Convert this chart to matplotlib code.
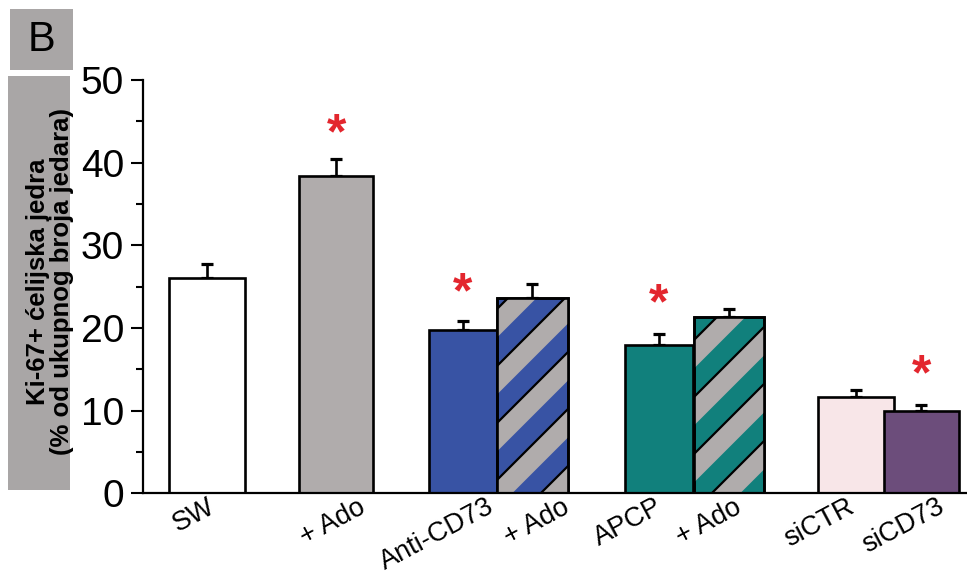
import numpy as np
import matplotlib.pyplot as plt
from matplotlib.patches import Rectangle, Polygon

plt.rcParams['font.family'] = ['Liberation Sans', 'DejaVu Sans']

labels = ["SW", "+ Ado", "Anti-CD73", "+ Ado", "APCP", "+ Ado", "siCTR", "siCD73"]
values = [26.1, 38.4, 19.8, 23.6, 18.0, 21.3, 11.7, 10.0]
errors = [1.6, 2.0, 1.1, 1.7, 1.3, 1.0, 0.75, 0.7]
star_idx = [1, 2, 4, 7]
star_y = [44.9, 25.6, 24.3, 15.7]

# layout (x units ~ 70 px)
bar_x = [0, 1.843, 3.65, 4.643, 6.45, 7.45, 9.264, 10.2]
bar_w = [1.086, 1.057, 0.971, 1.014, 0.971, 1.014, 1.086, 1.071]
label_dx = [0.0, 0.3, 0.33, 0.42, -0.07, 0.06, -0.14, 0.22]
colors = ['white', '#b0acac', '#3853a4', '#3853a4', '#11807c', '#11807c', '#f8e6e8', '#6c4d7b']
hatched = [False, False, False, True, False, True, False, False]
stripe_gray = '#b0acac'
box_gray = '#a9a6a6'

fig = plt.figure(figsize=(9.67, 5.78), dpi=100)
ax = fig.add_axes([143 / 967, (578 - 493.3) / 578, 1 - 143 / 967, (493.3 - 80) / 578])
ax.set_xlim(-0.921, 10.85)
ax.set_ylim(0, 50)

bars = []
for i in range(len(values)):
    b = ax.bar(bar_x[i], values[i], width=bar_w[i], color=colors[i],
               edgecolor='black', linewidth=1.9, zorder=2)
    bars.append(b[0])

ax.errorbar(bar_x, values, yerr=[np.zeros(len(values)), errors], fmt='none',
            ecolor='black', elinewidth=1.9, capsize=4.3, capthick=2.3, zorder=1.5)

# striped (gray / colour) bars
inv = ax.transData.inverted()
P = 57.0
for i in range(len(values)):
    if not hatched[i]:
        continue
    patch = bars[i]
    (x0, y0), (x1, y1) = ax.transData.transform(
        [(bar_x[i] - bar_w[i] / 2, 0), (bar_x[i] + bar_w[i] / 2, values[i])])
    start = np.floor((x0 - y1) / P) * P
    for ua in np.arange(start, x1 - y0 + P, P):
        ub = ua + P / 2
        verts = [(y0 + ua, y0), (y0 + ub, y0), (y1 + ub, y1), (y1 + ua, y1)]
        poly = Polygon(inv.transform(verts), closed=True, facecolor=stripe_gray,
                       edgecolor='none', zorder=2.5)
        ax.add_patch(poly)
        poly.set_clip_path(patch)
        pts = inv.transform([(y0 + ua, y0), (y1 + ua, y1)])
        ln, = ax.plot(pts[:, 0], pts[:, 1], color='black', lw=1.6, zorder=2.6)
        ln.set_clip_path(patch)
    ax.bar(bar_x[i], values[i], width=bar_w[i], facecolor='none',
           edgecolor='black', linewidth=1.9, zorder=3)

# significance stars
fs_star = 36
for i, sy in zip(star_idx, star_y):
    ax.annotate('*', xy=(bar_x[i], sy), xytext=(0, -0.52 * fs_star), textcoords='offset points',
                ha='center', va='baseline', fontsize=fs_star, color='#e3262e', fontweight='bold')

# axes styling
for s in ['top', 'right']:
    ax.spines[s].set_visible(False)
ax.spines['left'].set_linewidth(1.6)
ax.spines['bottom'].set_linewidth(1.6)
ax.set_yticks(np.arange(0, 51, 10))
ax.set_yticks(np.arange(5, 50, 10), minor=True)
ax.tick_params(axis='y', which='major', length=8.6, width=1.5, labelsize=28, pad=5)
ax.tick_params(axis='y', which='minor', length=5, width=1.5)
ax.set_xticks(np.array(bar_x) + np.array(label_dx))
ax.set_xticklabels(labels, rotation=28, ha='right', rotation_mode='anchor', fontsize=19.5)
ax.tick_params(axis='x', length=0, pad=0.5)

# y label box and panel letter
fig.patches.append(Rectangle((8 / 967, (578 - 490) / 578), 62 / 967, 414 / 578,
                             transform=fig.transFigure, facecolor=box_gray, edgecolor='none'))
fig.text(50 / 967, 1 - 282 / 578, "Ki-67+ ćelijska jedra\n(% od ukupnog broja jedara)",
         rotation=90, ha='center', va='center', fontsize=18.5, fontweight='bold',
         multialignment='center', linespacing=0.95)
fig.patches.append(Rectangle((10 / 967, (578 - 70) / 578), 63 / 967, 61 / 578,
                             transform=fig.transFigure, facecolor=box_gray, edgecolor='none'))
fig.text(41.5 / 967, 1 - 40 / 578, "B", ha='center', va='center', fontsize=30)

fig.savefig("out.png", dpi=100)
